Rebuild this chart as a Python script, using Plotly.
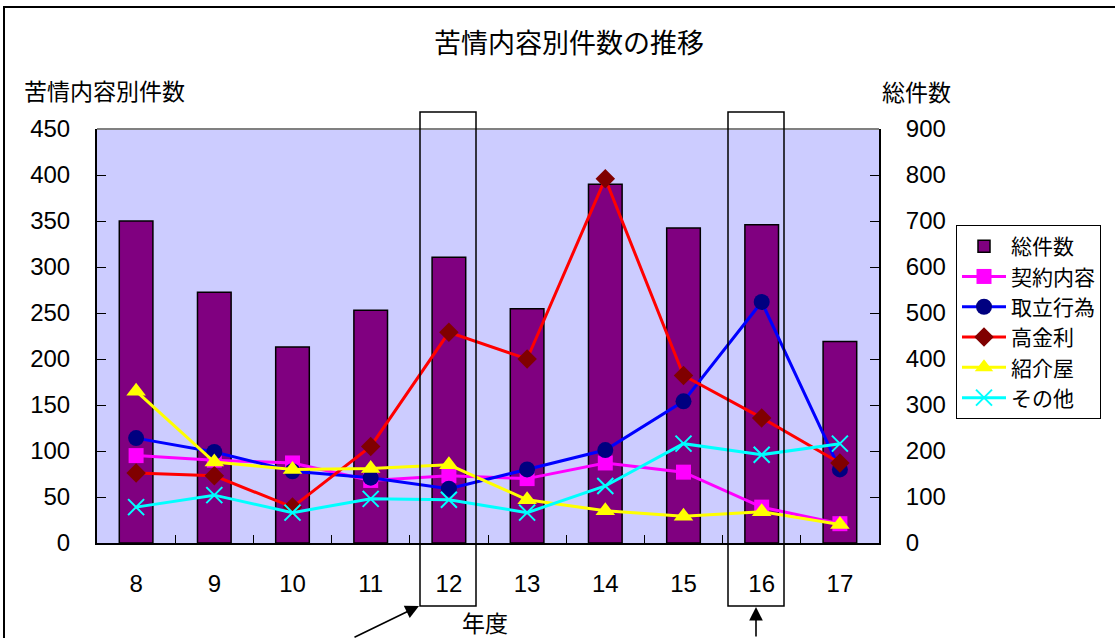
import plotly.graph_objects as go

# 年度
years = ["8", "9", "10", "11", "12", "13", "14", "15", "16", "17"]

# 総件数 (右軸)
total = [700, 545, 426, 506, 621, 509, 780, 685, 692, 438]

# 苦情内容別件数 (左軸)
keiyaku = [95, 90, 87, 68, 73, 70, 87, 77, 39, 21]        # 契約内容
toritate = [114, 99, 78, 71, 59, 80, 101, 154, 262, 80]   # 取立行為
koukinri = [76, 73, 39, 105, 229, 200, 396, 182, 136, 87]  # 高金利
shoukai = [165, 88, 80, 81, 85, 47, 35, 29, 34, 20]       # 紹介屋
sonota = [39, 52, 33, 48, 47, 33, 62, 108, 96, 108]       # その他

W, H = 1115, 638
ML, MR, MT, MB = 97, 236, 129, 95
PW, PH = W - ML - MR, H - MT - MB

JP = "Noto Sans CJK JP"
NUM = "Liberation Sans"


def px_x(px):
    return (px - ML) / PW


def px_y(py):
    return (H - MB - py) / PH


fig = go.Figure()

fig.add_trace(go.Bar(
    x=years, y=total, name="総件数", yaxis="y",
    marker=dict(color="#800080", line=dict(color="black", width=1.5)),
    width=0.43,
))

series = [
    ("契約内容", keiyaku, "#FF00FF", dict(symbol="square", size=15, color="#FF00FF")),
    ("取立行為", toritate, "#0000FF", dict(symbol="circle", size=16, color="#000080")),
    ("高金利", koukinri, "#FF0000", dict(symbol="diamond", size=15, color="#800000")),
    ("紹介屋", shoukai, "#FFFF00", dict(symbol="triangle-up", size=17, color="#FFFF00")),
    ("その他", sonota, "#00FFFF", dict(symbol="x-thin", size=16, color="#00FFFF",
                                     line=dict(color="#00FFFF", width=2))),
]
for name, vals, col, mk in series:
    fig.add_trace(go.Scatter(
        x=years, y=vals, name=name, yaxis="y2", mode="lines+markers",
        line=dict(color=col, width=3), marker=mk,
    ))

shapes = [
    # plot frame (top edge grey)
    dict(type="line", xref="paper", yref="paper", x0=0, x1=1, y0=1, y1=1,
         line=dict(color="#808080", width=2)),
    # chart outer border
    dict(type="rect", xref="paper", yref="paper",
         x0=px_x(4), x1=px_x(1130), y0=px_y(7), y1=px_y(660),
         line=dict(color="black", width=2)),
]
# callout boxes around two of the year labels (pixel left edges)
box_lefts = [420, 728]
box_w = 56
for bl in box_lefts:
    shapes.append(dict(type="rect", xref="paper", yref="paper",
                       x0=px_x(bl), x1=px_x(bl + box_w), y0=px_y(606), y1=px_y(112),
                       line=dict(color="black", width=1.5)))

annotations = [
    dict(text="苦情内容別件数の推移", xref="paper", yref="paper",
         x=px_x(569), y=px_y(42), xanchor="center", yanchor="middle", showarrow=False,
         font=dict(family=JP, size=27, color="black")),
    dict(text="苦情内容別件数", xref="paper", yref="paper",
         x=px_x(22), y=px_y(90), xanchor="left", yanchor="middle", showarrow=False,
         font=dict(family=JP, size=23, color="black")),
    dict(text="総件数", xref="paper", yref="paper",
         x=px_x(916), y=px_y(91), xanchor="center", yanchor="middle", showarrow=False,
         font=dict(family=JP, size=23, color="black")),
    dict(text="年度", xref="paper", yref="paper",
         x=px_x(485), y=px_y(622), xanchor="center", yanchor="middle", showarrow=False,
         font=dict(family=JP, size=23, color="black")),
]
# arrows pointing at the callout boxes
annotations.append(dict(text="", xref="paper", yref="paper",
                        x=px_x(box_lefts[0] - 1), y=px_y(606),
                        showarrow=True, arrowhead=2, arrowwidth=1.6, arrowsize=1.7,
                        arrowcolor="black", ax=-66, ay=34, standoff=0))
annotations.append(dict(text="", xref="paper", yref="paper",
                        x=px_x(box_lefts[1] + box_w / 2), y=px_y(607),
                        showarrow=True, arrowhead=2, arrowwidth=1.6, arrowsize=1.7,
                        arrowcolor="black", ax=0, ay=40, standoff=0))

fig.update_layout(
    width=W, height=H,
    margin=dict(l=ML, r=MR, t=MT, b=MB, pad=0),
    paper_bgcolor="white", plot_bgcolor="#CCCCFF",
    showlegend=True,
    legend=dict(x=px_x(956), y=px_y(225), xanchor="left", yanchor="top",
                bgcolor="white", bordercolor="black", borderwidth=1,
                font=dict(family=JP, size=21, color="black"),
                itemwidth=44, tracegroupgap=0),
    xaxis=dict(type="category", range=[-0.5, 9.5], tickson="boundaries",
               ticks="inside", ticklen=8, tickcolor="black", tickwidth=1,
               showline=True, linecolor="black", linewidth=2,
               showgrid=False, zeroline=False, ticklabelstandoff=18,
               tickfont=dict(family=NUM, size=24, color="black")),
    yaxis=dict(side="right", range=[0, 900], tickvals=list(range(0, 901, 100)),
               ticks="inside", ticklen=9, tickcolor="black", tickwidth=1,
               showline=True, linecolor="black", linewidth=2,
               showgrid=False, zeroline=False, ticklabelstandoff=20,
               tickfont=dict(family=NUM, size=24, color="black")),
    yaxis2=dict(side="left", overlaying="y", range=[0, 450],
                tickvals=list(range(0, 451, 50)),
                ticks="inside", ticklen=9, tickcolor="black", tickwidth=1,
                showline=True, linecolor="black", linewidth=2,
                showgrid=False, zeroline=False, ticklabelstandoff=20,
                tickfont=dict(family=NUM, size=24, color="black")),
    shapes=shapes,
    annotations=annotations,
)

fig.write_html("out.html")
